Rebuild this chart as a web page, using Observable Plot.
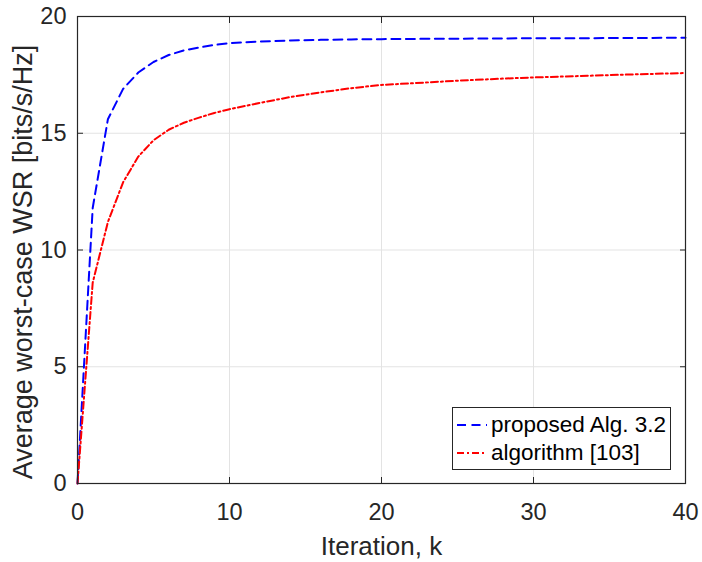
<!DOCTYPE html>
<html>
<head>
<meta charset="utf-8">
<script src="https://cdn.jsdelivr.net/npm/d3@7"></script>
<script src="https://cdn.jsdelivr.net/npm/@observablehq/plot@0.6"></script>
<style>
  html, body { margin: 0; padding: 0; background: #fff; }
  #wrap { position: relative; width: 702px; height: 562px; font-family: "Liberation Sans", Arial, Helvetica, sans-serif; }
  #legend { position: absolute; left: 452px; top: 407px; width: 219px; height: 63px; box-sizing: border-box;
            border: 1px solid #262626; background: #fff; padding: 3px 0 0 3px; }
  .row { display: flex; align-items: center; height: 28px; font-size: 22.5px; color: #000; }
  .row svg { margin-right: 3px; }
</style>
</head>
<body>
<div id="wrap"></div>
<script>
// Iteration index k and average worst-case WSR of each method
const iterations = [0, 1, 2, 3, 4, 5, 6, 7, 8, 9, 10, 12, 14, 16, 18, 20, 22, 25, 28, 30, 33, 36, 40];
const proposedWSR = [0, 11.8, 15.6, 16.9, 17.6, 18.05, 18.35, 18.55, 18.67, 18.78, 18.86, 18.93, 18.97, 19.0, 19.02, 19.03, 19.04, 19.05, 19.06, 19.07, 19.07, 19.08, 19.09];
const baselineWSR = [0, 8.6, 11.2, 12.9, 14.0, 14.7, 15.15, 15.45, 15.67, 15.87, 16.03, 16.3, 16.55, 16.75, 16.93, 17.07, 17.14, 17.25, 17.34, 17.39, 17.45, 17.51, 17.58];

const seriesNames = ["proposed Alg. 3.2", "algorithm [103]"];
const seriesColors = ["#0000ff", "#ff0000"];
const seriesDash = ["9,5.5", "7,3,2,3"];

const xTicks = [0, 10, 20, 30, 40];
const yTicks = [0, 5, 10, 15, 20];
const xLabel = "Iteration, k";
const yLabel = "Average worst-case WSR [bits/s/Hz]";

const rows = (vals) => iterations.map((k, i) => ({k, v: vals[i]}));
const axisColor = "#262626";
const font = "\"Liberation Sans\", Arial, Helvetica, sans-serif";

const chart = Plot.plot({
  width: 702,
  height: 562,
  marginLeft: 77,
  marginRight: 17,
  marginTop: 16,
  marginBottom: 79,
  style: {fontFamily: font, color: axisColor, background: "#fff", overflow: "visible"},
  x: {domain: [0, 40]},
  y: {domain: [0, 20]},
  marks: [
    Plot.gridX(xTicks, {stroke: "#e3e3e3", strokeOpacity: 1}),
    Plot.gridY(yTicks, {stroke: "#e3e3e3", strokeOpacity: 1}),
    Plot.line(rows(proposedWSR), {x: "k", y: "v", stroke: seriesColors[0], strokeWidth: 2, strokeDasharray: seriesDash[0]}),
    Plot.line(rows(baselineWSR), {x: "k", y: "v", stroke: seriesColors[1], strokeWidth: 2, strokeDasharray: seriesDash[1]}),
    Plot.frame({stroke: axisColor, strokeWidth: 1.2}),
    // tick labels
    Plot.axisX(xTicks, {anchor: "bottom", tickSize: 0, tickPadding: 20, fontSize: 23.5, label: null, fill: axisColor}),
    Plot.axisY(yTicks, {anchor: "left", tickSize: 0, tickPadding: 11, fontSize: 23.5, label: null, fill: axisColor}),
    // inward ticks on all four sides
    Plot.axisX(xTicks, {anchor: "bottom", tickSize: -6, text: null, label: null, stroke: axisColor}),
    Plot.axisX(xTicks, {anchor: "top", tickSize: -6, text: null, label: null, stroke: axisColor}),
    Plot.axisY(yTicks, {anchor: "left", tickSize: -6, text: null, label: null, stroke: axisColor}),
    Plot.axisY(yTicks, {anchor: "right", tickSize: -6, text: null, label: null, stroke: axisColor}),
    // axis titles
    Plot.text([xLabel], {frameAnchor: "bottom", textAnchor: "middle", lineAnchor: "middle", dy: 63, fontSize: 26, fill: axisColor}),
    Plot.text([yLabel], {frameAnchor: "left", textAnchor: "middle", lineAnchor: "middle", dx: -54, dy: 12, rotate: -90, fontSize: 27, fill: axisColor})
  ]
});

const wrap = document.getElementById("wrap");
wrap.appendChild(chart);

// legend box
const legend = document.createElement("div");
legend.id = "legend";
seriesNames.forEach((name, i) => {
  const row = document.createElement("div");
  row.className = "row";
  const sw = d3.create("svg").attr("width", 32).attr("height", 10);
  sw.append("line").attr("x1", 1).attr("x2", 31).attr("y1", 5).attr("y2", 5)
    .attr("stroke", seriesColors[i]).attr("stroke-width", 2).attr("stroke-dasharray", seriesDash[i]);
  row.appendChild(sw.node());
  const label = document.createElement("span");
  label.textContent = name;
  row.appendChild(label);
  legend.appendChild(row);
});
wrap.appendChild(legend);
</script>
</body>
</html>
